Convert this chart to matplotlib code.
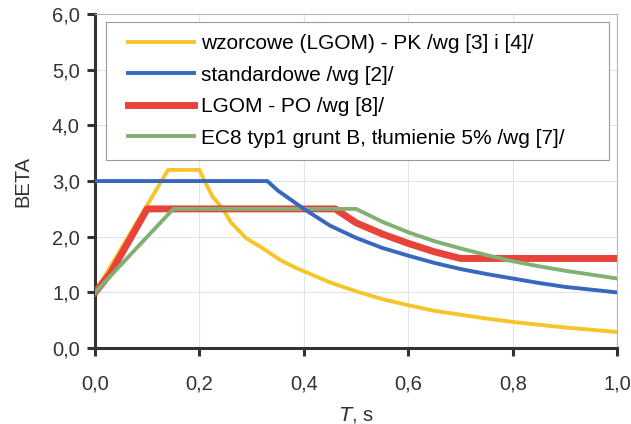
import matplotlib.pyplot as plt
from matplotlib.patches import Rectangle

plt.rcParams['font.family'] = ['Liberation Sans', 'DejaVu Sans']

# wzorcowe (LGOM) - PK
T_wz = [0.0, 0.14, 0.20, 0.21, 0.225, 0.245, 0.26, 0.29, 0.32, 0.355, 0.385, 0.40,
        0.45, 0.50, 0.55, 0.60, 0.65, 0.70, 0.75, 0.80, 0.85, 0.90, 0.95, 1.0]
B_wz = [1.0, 3.2, 3.2, 3.0, 2.72, 2.5, 2.26, 1.97, 1.8, 1.58, 1.44, 1.38,
        1.18, 1.02, 0.88, 0.77, 0.67, 0.60, 0.53, 0.47, 0.42, 0.37, 0.33, 0.29]

# standardowe
T_st = [0.0, 0.33, 0.35, 0.40, 0.45, 0.50, 0.55, 0.60, 0.65, 0.70, 0.75, 0.80,
        0.85, 0.90, 0.95, 1.0]
B_st = [3.0, 3.0, 2.83, 2.5, 2.2, 1.98, 1.8, 1.66, 1.53, 1.42, 1.33, 1.25,
        1.17, 1.1, 1.05, 1.0]

# LGOM - PO
T_po = [0.0, 0.03, 0.10, 0.46, 0.50, 0.55, 0.60, 0.65, 0.70, 1.0]
B_po = [1.0, 1.35, 2.5, 2.5, 2.25, 2.05, 1.88, 1.73, 1.61, 1.61]

# EC8 typ1 grunt B
T_ec = [0.0, 0.02, 0.05, 0.10, 0.15, 0.50, 0.55, 0.60, 0.65, 0.70, 0.75, 0.80,
        0.85, 0.90, 0.95, 1.0]
B_ec = [1.0, 1.2, 1.5, 2.0, 2.5, 2.5, 2.27, 2.08, 1.92, 1.79, 1.67, 1.56,
        1.47, 1.39, 1.32, 1.25]

labels = ['wzorcowe (LGOM) - PK /wg [3] i [4]/',
          'standardowe /wg [2]/',
          'LGOM - PO /wg [8]/',
          'EC8 typ1 grunt B, tłumienie 5% /wg [7]/']

xticks = [0.0, 0.2, 0.4, 0.6, 0.8, 1.0]
yticks = [0, 1, 2, 3, 4, 5, 6]

fig = plt.figure(figsize=(6.31, 4.24), dpi=100)
ax = fig.add_axes([0.1506, 0.179, 0.8274, 0.788])

ax.plot(T_wz, B_wz, color='#f5c52a', lw=2.8, label=labels[0], zorder=3)
ax.plot(T_st, B_st, color='#3767bf', lw=2.8, label=labels[1], zorder=6)
ax.plot(T_po, B_po, color='#e8433b', lw=5, label=labels[2], zorder=4)
ax.plot(T_ec, B_ec, color='#82b072', lw=2.8, label=labels[3], zorder=5)

ax.set_xlim(0, 1.0)
ax.set_ylim(0, 6.0)
ax.set_xticks(xticks)
ax.set_yticks(yticks)
ax.set_xticklabels([('%.1f' % v).replace('.', ',') for v in xticks])
ax.set_yticklabels([('%.1f' % v).replace('.', ',') for v in yticks])
ax.grid(True, color='#dde6ee', lw=0.8)
ax.set_axisbelow(True)

for s in ['left', 'bottom']:
    ax.spines[s].set_color('#333333')
    ax.spines[s].set_linewidth(2.2)
for s in ['top', 'right']:
    ax.spines[s].set_color('#b0b8c0')
    ax.spines[s].set_linewidth(0.8)
ax.tick_params(direction='out', length=6, width=2.2, color='#333333',
               labelsize=14.5, labelcolor='#333333', pad=5)
ax.tick_params(axis='x', pad=13)

ax.set_ylabel('BETA', fontsize=14.5, color='#333333', labelpad=14)
ax.set_xlabel('$T$, s', fontsize=14.5, color='#333333', labelpad=8)

# legend frame
ax.add_patch(Rectangle((0.021, 0.563), 0.964, 0.413, transform=ax.transAxes,
                       facecolor='white', edgecolor='#999999', lw=0.8,
                       zorder=9, clip_on=False))
leg = ax.legend(loc='upper left', bbox_to_anchor=(0.063, 0.94),
                fontsize=15.05, frameon=False, handlelength=3.15,
                handletextpad=0.37, labelspacing=0.6, borderpad=0,
                borderaxespad=0)
leg.set_zorder(10)

fig.savefig('out.png', dpi=100)
